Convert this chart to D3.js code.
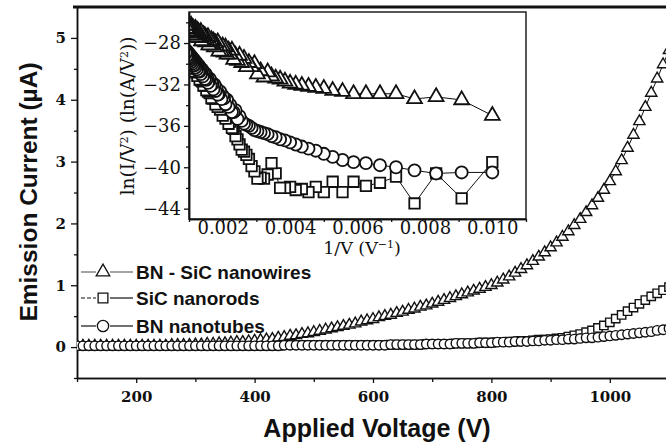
<!DOCTYPE html>
<html>
<head>
<meta charset="utf-8">
<script src="https://cdn.jsdelivr.net/npm/d3@7"></script>
<style>
  html, body { margin: 0; padding: 0; background: #fff; }
  svg { display: block; }
</style>
</head>
<body>
<svg id="chart" width="666" height="445"></svg>
<script>
// Applied voltage (V) for every measured point
const voltage = [
  100,110,120,130,140,150,160,170,180,190,
  200,210,220,230,240,250,260,270,280,290,
  300,310,320,330,340,350,360,370,380,390,
  400,410,420,430,440,450,460,470,480,490,
  500,510,520,530,540,550,560,570,580,590,
  600,610,620,630,640,650,660,670,680,690,
  700,710,720,730,740,750,760,770,780,790,
  800,810,820,830,840,850,860,870,880,890,
  900,910,920,930,940,950,960,970,980,990,
  1000,1010,1020,1030,1040,1050,1060,1070,1080,1090,
  1100
];

// Emission current (µA)
const nanowiresCurrent = [
  0.02,0.02,0.02,0.02,0.02,0.02,0.02,0.02,0.02,0.02,
  0.02,0.02,0.02,0.02,0.02,0.02,0.03,0.03,0.03,0.03,
  0.04,0.04,0.05,0.05,0.06,0.06,0.07,0.08,0.08,0.09,
  0.10,0.11,0.12,0.13,0.15,0.16,0.18,0.19,0.21,0.22,
  0.24,0.26,0.28,0.30,0.32,0.34,0.36,0.38,0.41,0.43,
  0.45,0.48,0.50,0.52,0.55,0.57,0.60,0.62,0.65,0.67,
  0.70,0.73,0.76,0.79,0.82,0.85,0.88,0.91,0.94,0.97,
  1.00,1.04,1.09,1.14,1.20,1.26,1.32,1.39,1.46,1.53,
  1.61,1.69,1.78,1.87,1.97,2.07,2.18,2.29,2.41,2.54,
  2.68,2.84,3.02,3.22,3.43,3.65,3.88,4.11,4.34,4.57,
  4.80
];
const nanorodsCurrent = [
  0.02,0.02,0.02,0.02,0.02,0.02,0.02,0.02,0.02,0.02,
  0.02,0.02,0.02,0.02,0.02,0.02,0.02,0.02,0.02,0.02,
  0.02,0.02,0.02,0.02,0.02,0.02,0.02,0.02,0.02,0.02,
  0.02,0.02,0.02,0.02,0.02,0.03,0.03,0.03,0.03,0.03,
  0.03,0.03,0.03,0.03,0.03,0.03,0.03,0.03,0.03,0.03,
  0.03,0.03,0.03,0.04,0.04,0.04,0.04,0.04,0.04,0.05,
  0.05,0.05,0.05,0.05,0.06,0.06,0.06,0.06,0.07,0.07,
  0.07,0.08,0.08,0.09,0.09,0.10,0.10,0.11,0.12,0.12,
  0.13,0.14,0.15,0.17,0.19,0.21,0.24,0.27,0.31,0.35,
  0.40,0.46,0.52,0.58,0.64,0.70,0.76,0.82,0.87,0.92,
  0.97
];
const nanotubesCurrent = [
  0.02,0.02,0.02,0.02,0.02,0.02,0.02,0.02,0.02,0.02,
  0.02,0.02,0.02,0.02,0.02,0.02,0.02,0.02,0.02,0.02,
  0.02,0.02,0.02,0.02,0.02,0.02,0.02,0.02,0.02,0.02,
  0.02,0.02,0.02,0.02,0.02,0.03,0.03,0.03,0.03,0.03,
  0.03,0.03,0.03,0.03,0.03,0.03,0.03,0.03,0.03,0.03,
  0.03,0.03,0.03,0.04,0.04,0.04,0.04,0.04,0.04,0.05,
  0.05,0.05,0.05,0.05,0.06,0.06,0.06,0.06,0.07,0.07,
  0.07,0.08,0.08,0.08,0.09,0.09,0.09,0.10,0.10,0.11,
  0.11,0.12,0.12,0.13,0.13,0.14,0.15,0.15,0.16,0.17,
  0.18,0.19,0.20,0.21,0.22,0.23,0.24,0.25,0.27,0.28,
  0.30
];

// Fowler–Nordheim form: ln(I/V²) with I in A
const nanowiresLn = [
  -35.0,-33.5,-33.2,-33.4,-32.9,-32.9,-32.9,-32.9,-32.7,-32.6,
  -32.4,-32.3,-32.2,-32.1,-32.0,-31.9,-31.7,-31.5,-31.4,-31.2,
  -30.8,-31.3,-30.7,-31.0,-30.0,-30.3,-29.9,-30.3,-29.5,-29.9,
  -29.2,-29.7,-29.2,-29.6,-28.7,-29.1,-28.7,-29.1,-28.4,-28.9,
  -28.3,-28.8,-28.3,-28.8,-27.9,-28.3,-28.0,-28.4,-27.8,-28.2,
  -27.7,-28.2,-27.8,-28.2,-27.4,-27.8,-27.5,-27.9,-27.3,-27.7,
  -27.2,-27.8,-27.3,-27.8,-26.9,-27.4,-27.1,-27.5,-26.9,-27.4,
  -26.8,-27.4,-27.0,-27.4,-26.6,-27.1,-26.8,-27.2,-26.6,-27.1,
  -26.5,-27.1,-26.7,-27.2,-26.3,-26.8,-26.5,-27.0,-26.3,-26.8,
  -26.3,-26.9,-26.4,-26.9,-26.1,-26.6,-26.2,-26.7,-26.1,-26.6,
  -26.3
];
const nanorodsLn = [
  -39.5,-43.0,-40.6,-43.5,-40.9,-41.5,-41.8,-41.4,-42.4,-41.4,
  -42.4,-41.9,-42.4,-42.1,-42.2,-41.9,-42.0,-42.0,-40.6,-39.6,
  -40.7,-41.1,-41.0,-41.1,-40.4,-39.9,-39.2,-38.8,-38.5,-38.3,
  -37.8,-37.3,-37.0,-36.3,-36.2,-35.6,-35.8,-35.2,-35.3,-34.8,
  -35.02,-34.32,-34.42,-33.84,-34.16,-33.49,-33.92,-33.36,-33.11,-33.36,
  -33.31,-32.67,-32.84,-32.30,-32.68,-32.05,-32.54,-32.02,-31.81,-32.10,
  -32.10,-31.49,-31.69,-31.19,-31.60,-31.00,-31.52,-31.03,-30.84,-31.16,
  -31.18,-30.60,-30.83,-30.35,-30.77,-30.20,-30.73,-30.26,-30.10,-30.43,
  -30.47,-29.91,-30.15,-29.68,-30.13,-29.57,-30.11,-29.66,-29.50,-29.85,
  -29.90,-29.35,-29.60,-29.15,-29.61,-29.06,-29.61,-29.17,-29.02,-29.37,
  -29.13
];
const nanotubesLn = [
  -40.5,-40.5,-40.6,-40.3,-40.0,-39.8,-39.6,-39.5,-39.3,-39.0,
  -38.7,-38.4,-38.2,-38.0,-37.8,-37.6,-37.4,-37.3,-37.1,-37.0,
  -36.8,-36.7,-36.6,-36.5,-36.4,-36.2,-36.0,-35.9,-35.79,-35.52,
  -35.06,-35.32,-34.49,-34.67,-34.66,-33.96,-34.17,-33.48,-33.91,-33.34,
  -33.08,-33.42,-32.67,-32.93,-32.99,-32.35,-32.63,-32.00,-32.48,-31.96,
  -31.75,-32.14,-31.44,-31.73,-31.84,-31.24,-31.55,-30.96,-31.47,-30.99,
  -30.81,-31.22,-30.55,-30.87,-31.00,-30.42,-30.76,-30.19,-30.72,-30.26,
  -30.09,-30.53,-29.87,-30.21,-30.36,-29.80,-30.15,-29.59,-30.14,-29.69,
  -29.54,-29.99,-29.35,-29.70,-29.85,-29.31,-29.67,-29.12,-29.68,-29.24,
  -29.10,-29.56,-28.92,-29.28,-29.45,-28.91,-29.27,-28.74,-29.31,-28.87,
  -28.94
];

// Axis ticks
const voltageTicks = [200, 400, 600, 800, 1000];
const voltageMinorTicks = [100, 300, 500, 700, 900, 1100];
const currentTicks = [0, 1, 2, 3, 4, 5];
const currentMinorTicks = [-0.5, 0.5, 1.5, 2.5, 3.5, 4.5];
const invVTicks = [0.002, 0.004, 0.006, 0.008, 0.010];
const invVMinorTicks = [0.001, 0.003, 0.005, 0.007, 0.009, 0.011];
const lnTicks = [-44, -40, -36, -32, -28];
const lnMinorTicks = [-42, -38, -34, -30, -26];

const seriesNames = ["BN - SiC nanowires", "SiC nanorods", "BN nanotubes"];
const seriesSymbols = [d3.symbolTriangle, d3.symbolSquare, d3.symbolCircle];
const seriesCurrents = [nanowiresCurrent, nanorodsCurrent, nanotubesCurrent];
const seriesLn = [nanowiresLn, nanorodsLn, nanotubesLn];

const SANS = "'Liberation Sans', Arial, sans-serif";
const SERIF = "'DejaVu Serif', serif";
const INK = "#111";

const svg = d3.select("#chart");

// ---------- main panel ----------
const x = d3.scaleLinear().domain([100, 1100]).range([77, 669]);
const y = d3.scaleLinear().domain([-0.5, 5.5]).range([378, 7]);

svg.append("clipPath").attr("id", "mainClip")
  .append("rect").attr("x", 77).attr("y", 7).attr("width", 600).attr("height", 371);

function styleAxis(g, fontSize, weight, family) {
  g.select(".domain").attr("stroke", INK).attr("stroke-width", 1.5);
  g.selectAll(".tick line").attr("stroke", INK).attr("stroke-width", 1.3);
  g.selectAll(".tick text").attr("fill", INK)
    .attr("font-family", family).attr("font-size", fontSize).attr("font-weight", weight);
}

// minor ticks first, then the labelled axis
svg.append("g").attr("transform", "translate(77,0)")
  .call(d3.axisLeft(y).tickValues(currentMinorTicks).tickSize(3).tickSizeOuter(0).tickFormat(""))
  .call(g => styleAxis(g, 15, "bold", SERIF));
svg.append("g").attr("transform", "translate(77,0)")
  .call(d3.axisLeft(y).tickValues(currentTicks).tickSize(6).tickSizeOuter(0).tickPadding(5).tickFormat(d3.format("d")))
  .call(g => styleAxis(g, 15, "bold", SERIF));

svg.append("g").attr("transform", "translate(0,378)")
  .call(d3.axisBottom(x).tickValues(voltageMinorTicks).tickSize(4).tickSizeOuter(0).tickFormat(""))
  .call(g => styleAxis(g, 15, "bold", SERIF));
svg.append("g").attr("transform", "translate(0,378)")
  .call(d3.axisBottom(x).tickValues(voltageTicks).tickSize(5).tickSizeOuter(0).tickPadding(8).tickFormat(d3.format("d")))
  .call(g => styleAxis(g, 15, "bold", SERIF));

// heavy frame line along the top
svg.append("line").attr("x1", 73).attr("x2", 669).attr("y1", 7).attr("y2", 7)
  .attr("stroke", INK).attr("stroke-width", 3);

// axis titles
svg.append("text").attr("x", 377).attr("y", 437).attr("text-anchor", "middle")
  .attr("font-family", SANS).attr("font-weight", "bold").attr("font-size", 25).attr("fill", INK)
  .text("Applied Voltage (V)");
svg.append("text").attr("transform", "translate(37,192) rotate(-90)").attr("text-anchor", "middle")
  .attr("font-family", SANS).attr("font-weight", "bold").attr("font-size", 24.5).attr("fill", INK)
  .text("Emission Current (\u00B5A)");

// series
const mainSizes = [55, 70, 70];
const plot = svg.append("g").attr("clip-path", "url(#mainClip)");
seriesNames.forEach((name, s) => {
  const pts = voltage.map((v, i) => [v, seriesCurrents[s][i]]);
  plot.append("path").datum(pts)
    .attr("d", d3.line().x(d => x(d[0])).y(d => y(d[1])))
    .attr("fill", "none").attr("stroke", INK).attr("stroke-width", 1);
  plot.append("g").selectAll("path").data(pts).join("path")
    .attr("transform", d => `translate(${x(d[0])},${y(d[1])})`)
    .attr("d", d3.symbol().type(seriesSymbols[s]).size(mainSizes[s]))
    .attr("fill", "#fff").attr("stroke", INK).attr("stroke-width", 1.4);
});

// legend
const legendY = [272, 298, 326];
const legend = svg.append("g");
seriesNames.forEach((name, s) => {
  const row = legend.append("g").attr("transform", `translate(0,${legendY[s]})`);
  row.append("line").attr("x1", 81).attr("x2", 96).attr("y1", 0).attr("y2", 0)
    .attr("stroke", s === 0 ? "#666" : INK).attr("stroke-width", 1.2)
    .attr("stroke-dasharray", s === 1 ? "4,2" : null);
  row.append("line").attr("x1", 110).attr("x2", 133).attr("y1", 0).attr("y2", 0)
    .attr("stroke", s === 0 ? "#666" : INK).attr("stroke-width", 1.2);
  row.append("path").attr("transform", "translate(103,0)")
    .attr("d", d3.symbol().type(seriesSymbols[s]).size([80, 95, 100][s]))
    .attr("fill", "#fff").attr("stroke", INK).attr("stroke-width", 1.3);
  row.append("text").attr("x", 136).attr("y", 7)
    .attr("font-family", SANS).attr("font-weight", "bold").attr("font-size", 19).attr("fill", INK)
    .text(name);
});

// ---------- inset: FN plot ----------
const ix = d3.scaleLinear().domain([0.001, 0.011]).range([189, 526]);
const iy = d3.scaleLinear().domain([-45, -25]).range([219, 12]);

svg.append("rect").attr("x", 189).attr("y", 12).attr("width", 337).attr("height", 207)
  .attr("fill", "#fff").attr("stroke", "none");

svg.append("clipPath").attr("id", "insetClip")
  .append("rect").attr("x", 189).attr("y", 12).attr("width", 337).attr("height", 207);

const inset = svg.append("g").attr("clip-path", "url(#insetClip)");
const insetSizes = [95, 110, 115];
seriesNames.forEach((name, s) => {
  const pts = voltage.map((v, i) => [1 / v, seriesLn[s][i]]);
  inset.append("path").datum(pts)
    .attr("d", d3.line().x(d => ix(d[0])).y(d => iy(d[1])))
    .attr("fill", "none").attr("stroke", INK).attr("stroke-width", 1);
  inset.append("g").selectAll("path").data(pts).join("path")
    .attr("transform", d => `translate(${ix(d[0])},${iy(d[1])})`)
    .attr("d", d3.symbol().type(seriesSymbols[s]).size(insetSizes[s]))
    .attr("fill", "#fff").attr("stroke", INK).attr("stroke-width", 1.8);
});

svg.append("rect").attr("x", 189).attr("y", 12).attr("width", 337).attr("height", 207)
  .attr("fill", "none").attr("stroke", INK).attr("stroke-width", 1.4);

svg.append("g").attr("transform", "translate(189,0)")
  .call(d3.axisLeft(iy).tickValues(lnMinorTicks).tickSize(3).tickSizeOuter(0).tickFormat(""))
  .call(g => styleAxis(g, 17, "normal", SERIF));
svg.append("g").attr("transform", "translate(189,0)")
  .call(d3.axisLeft(iy).tickValues(lnTicks).tickSize(5).tickSizeOuter(0).tickPadding(3).tickFormat(d3.format("d")))
  .call(g => styleAxis(g, 18, "normal", SERIF));
svg.append("g").attr("transform", "translate(0,219)")
  .call(d3.axisBottom(ix).tickValues(invVMinorTicks).tickSize(3).tickSizeOuter(0).tickFormat(""))
  .call(g => styleAxis(g, 17, "normal", SERIF));
svg.append("g").attr("transform", "translate(0,219)")
  .call(d3.axisBottom(ix).tickValues(invVTicks).tickSize(4).tickSizeOuter(0).tickPadding(-2).tickFormat(d3.format(".3f")))
  .call(g => styleAxis(g, 18, "normal", SERIF));

// inset axis titles
const ixTitle = svg.append("text").attr("x", 362).attr("y", 254).attr("text-anchor", "middle")
  .attr("font-family", SERIF).attr("font-size", 17.5).attr("fill", INK);
ixTitle.append("tspan").text("1/V (V");
ixTitle.append("tspan").attr("baseline-shift", "super").attr("font-size", 11).text("\u22121");
ixTitle.append("tspan").text(")");

const iyTitle = svg.append("text").attr("transform", "translate(134,116) rotate(-90)").attr("text-anchor", "middle")
  .attr("font-family", SERIF).attr("font-size", 18.5).attr("fill", INK);
iyTitle.append("tspan").text("ln(I/V");
iyTitle.append("tspan").attr("baseline-shift", "super").attr("font-size", 11).text("2");
iyTitle.append("tspan").text(") (ln(A/V");
iyTitle.append("tspan").attr("baseline-shift", "super").attr("font-size", 11).text("2");
iyTitle.append("tspan").text("))");
</script>
</body>
</html>
